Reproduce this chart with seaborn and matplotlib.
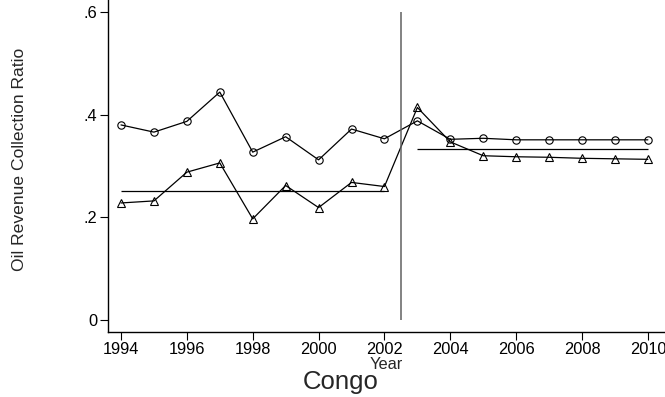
import matplotlib
matplotlib.use("Agg")
import matplotlib.pyplot as plt
import seaborn as sns
import pandas as pd
import numpy as np

years = list(range(1994, 2011))
circle_vals = [0.380, 0.366, 0.387, 0.444, 0.327, 0.357, 0.312, 0.372, 0.353,
               0.388, 0.352, 0.354, 0.351, 0.351, 0.351, 0.351, 0.351]
triangle_vals = [0.228, 0.232, 0.288, 0.306, 0.197, 0.262, 0.219, 0.268, 0.260,
                 0.414, 0.347, 0.320, 0.318, 0.317, 0.315, 0.314, 0.313]
break_year = 2002.5
ytick_vals = [0, 0.2, 0.4, 0.6]
ytick_labels = ["0", ".2", ".4", ".6"]
xtick_vals = list(range(1994, 2011, 2))

sns.set_style("ticks")
plt.rcParams['font.family'] = ['Liberation Sans', 'DejaVu Sans']

df = pd.DataFrame({"Year": years, "circle": circle_vals, "triangle": triangle_vals})

W, H = 665, 397
fig = plt.figure(figsize=(W / 100, H / 100), dpi=100)
ax = fig.add_axes([108 / W, 65 / H, (W - 108) / W, 1 - 65 / H])

sns.lineplot(data=df, x="Year", y="triangle", ax=ax, color="black", lw=0.9,
             marker="^", markersize=6, markerfacecolor="none",
             markeredgecolor="black", markeredgewidth=0.8)
sns.lineplot(data=df, x="Year", y="circle", ax=ax, color="black", lw=0.9,
             marker="o", markersize=5.3, markerfacecolor="none",
             markeredgecolor="black", markeredgewidth=0.8)

pre = df[df["Year"] < break_year]
post = df[df["Year"] > break_year]
ax.hlines(pre["triangle"].mean(), pre["Year"].min(), pre["Year"].max(), color="black", lw=0.9)
ax.hlines(post["triangle"].mean(), post["Year"].min(), post["Year"].max(), color="black", lw=0.9)
ax.vlines(break_year, 0, 0.6, color="#606060", lw=1.1)

ax.set_xlim(1993.605, 2010.52)
ax.set_ylim(-0.0234, 0.6234)
ax.set_yticks(ytick_vals)
ax.set_yticklabels(ytick_labels)
ax.set_xticks(xtick_vals)
ax.tick_params(axis="both", direction="out", length=5.5, width=0.8, labelsize=11.8,
               colors="black", pad=2)
ax.set_xlabel("Year", fontsize=11.8, labelpad=0)
ax.set_ylabel("Oil Revenue Collection Ratio", fontsize=12.6)
ax.yaxis.set_label_coords(-81 / (W - 108), (332 - 159) / 332)
for s in ["top", "right"]:
    ax.spines[s].set_visible(False)
for s in ["left", "bottom"]:
    ax.spines[s].set_linewidth(1.0)
    ax.spines[s].set_color("black")
fig.text(341 / W, 1 - 382 / H, "Congo", ha="center", va="center", fontsize=18.5)

fig.savefig("out.png", dpi=100)
